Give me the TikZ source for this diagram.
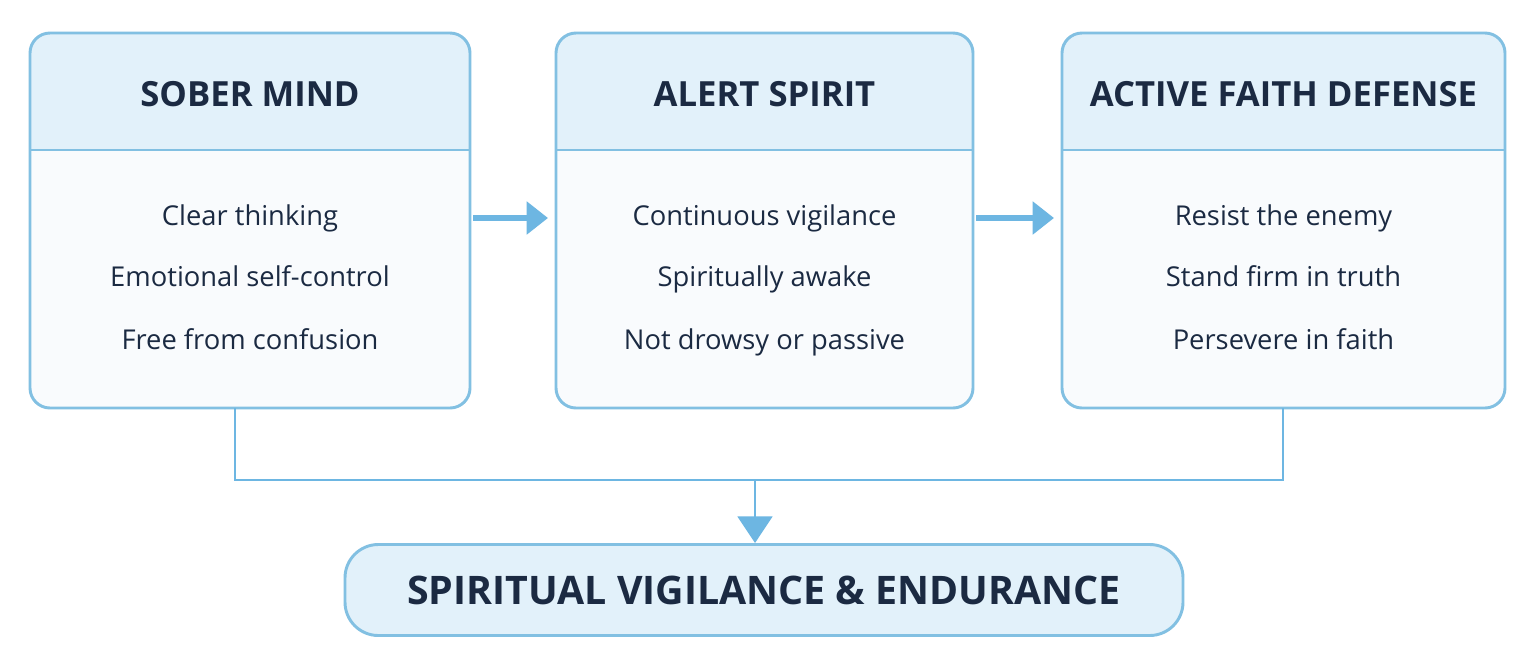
\documentclass[tikz,border=0pt]{standalone}
\usepackage{fontspec}
\setmainfont{Open Sans}
\usetikzlibrary{arrows.meta,calc}
\definecolor{bd}{HTML}{82C0E2}
\definecolor{hd}{HTML}{E2F1FA}
\definecolor{bg}{HTML}{F9FBFD}
\definecolor{ar}{HTML}{6DB6E2}
\definecolor{tx}{HTML}{1B2A42}
\begin{document}
\begin{tikzpicture}[x=0.75pt,y=-0.75pt,
  box/.style={draw=bd,line width=2.2pt,rounded corners=15pt},
  head/.style={font=\fontsize{26}{30}\selectfont\bfseries,text=tx,anchor=base},
  item/.style={font=\fontsize{20.5}{24}\selectfont,text=tx,anchor=base},
  flow/.style={draw=ar,line width=5pt,-{Triangle[length=16pt,width=24pt]}},
  link/.style={draw=ar,line width=2.2pt}]
\fill[white] (0,0) rectangle (1536,669);
\foreach \n/\a/\b/\t/\i/\j/\k in {
 b1/30/470/SOBER MIND/Clear thinking/Emotional self-control/Free from confusion,
 b2/556/973/ALERT SPIRIT/Continuous vigilance/Spiritually awake/Not drowsy or passive,
 b3/1062/1505/ACTIVE FAITH DEFENSE/Resist the enemy/Stand firm in truth/Persevere in faith}{
 \begin{scope}
 \clip[rounded corners=15pt] (\a,33) rectangle (\b,408);
 \fill[hd] (\a,33) rectangle (\b,150);
 \fill[bg] (\a,150) rectangle (\b,408);
 \end{scope}
 \draw[box] (\a,33) rectangle (\b,408);
 \draw[bd,line width=2.2pt] (\a,150) -- (\b,150);
 \node[head] (\n h) at ({(\a+\b)/2},106) {\t};
 \node[item] (\n 1) at ({(\a+\b)/2},225) {\i};
 \node[item] (\n 2) at ({(\a+\b)/2},286) {\j};
 \node[item] (\n 3) at ({(\a+\b)/2},349) {\k};
 \coordinate (\n L) at (\a,218);
 \coordinate (\n R) at (\b,218);
}
\draw[flow] ($(b1R)+(3,0)$) -- ($(b2L)+(-8,0)$);
\draw[flow] ($(b2R)+(3,0)$) -- ($(b3L)+(-8,0)$);
\coordinate (c1) at (235,408); \coordinate (c2) at (1283,408);
\coordinate (m) at (755,480);
\draw[link] (c1) |- (m) -| (c2);
\node[box,fill=hd,rounded corners=25pt,minimum width=838*0.75pt,minimum height=91*0.75pt,
  font=\fontsize{29.5}{34}\selectfont\bfseries,text=tx] (f) at (764,590) {SPIRITUAL VIGILANCE \& ENDURANCE};
\draw[flow,line width=2.2pt,-{Triangle[length=20pt,width=26pt]}] (m) -- (f.north -| m);
\end{tikzpicture}
\end{document}
